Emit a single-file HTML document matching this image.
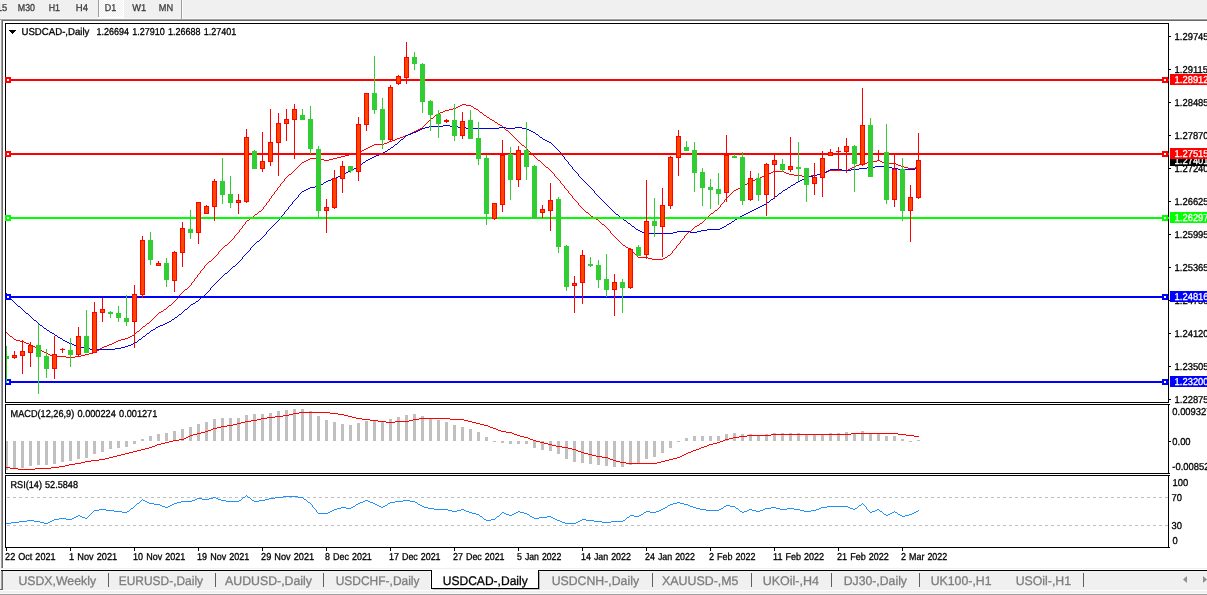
<!DOCTYPE html>
<html><head><meta charset="utf-8"><title>USDCAD-,Daily</title>
<style>
html,body{margin:0;padding:0;background:#fff;overflow:hidden}
body{width:1207px;height:595px;font-family:"Liberation Sans",sans-serif}
svg{display:block}
</style></head><body>
<svg width="1207" height="595" viewBox="0 0 1207 595" shape-rendering="crispEdges" text-rendering="geometricPrecision" font-family="'Liberation Sans', sans-serif">
<rect x="0" y="0" width="1207" height="595" fill="#fff"/>
<rect x="0" y="0" width="1207" height="18" fill="#f0f0f0"/>
<rect x="0" y="18" width="1207" height="1" fill="#f8f8f8"/>
<rect x="0" y="19" width="1207" height="1" fill="#a0a0a0"/>
<rect x="0" y="20" width="1207" height="1" fill="#696969"/>
<rect x="0" y="20" width="1" height="549" fill="#f4f4f4"/>
<rect x="1" y="20" width="1" height="549" fill="#a0a0a0"/>
<rect x="2" y="21" width="1" height="548" fill="#696969"/>
<rect x="98" y="0" width="1" height="17" fill="#a0a0a0"/>
<pattern id="ck" width="2" height="2" patternUnits="userSpaceOnUse"><rect width="2" height="2" fill="#f0f0f0"/><rect width="1" height="1" fill="#fff"/><rect x="1" y="1" width="1" height="1" fill="#fff"/></pattern>
<rect x="99" y="0" width="24" height="17" fill="url(#ck)"/>
<rect x="123" y="0" width="1" height="18" fill="#fff"/>
<rect x="98" y="17" width="26" height="1" fill="#fff"/>
<rect x="181" y="0" width="1" height="19" fill="#a0a0a0"/>
<rect x="182" y="0" width="1" height="19" fill="#fafafa"/>
<text transform="translate(-3.20,11) scale(0.9300,1)" font-size="10" fill="#3c3c3c" stroke="#3c3c3c" stroke-width="0.3">15</text>
<text transform="translate(17.80,11) scale(0.8843,1)" font-size="10" fill="#3c3c3c" stroke="#3c3c3c" stroke-width="0.3">M30</text>
<text transform="translate(48.70,11) scale(0.8828,1)" font-size="10" fill="#3c3c3c" stroke="#3c3c3c" stroke-width="0.3">H1</text>
<text transform="translate(75.80,11) scale(0.9531,1)" font-size="10" fill="#3c3c3c" stroke="#3c3c3c" stroke-width="0.3">H4</text>
<text transform="translate(104.70,11) scale(0.8906,1)" font-size="10" fill="#3c3c3c" stroke="#3c3c3c" stroke-width="0.3">D1</text>
<text transform="translate(132.30,11) scale(0.9267,1)" font-size="10" fill="#3c3c3c" stroke="#3c3c3c" stroke-width="0.3">W1</text>
<text transform="translate(158.80,11) scale(0.9196,1)" font-size="10" fill="#3c3c3c" stroke="#3c3c3c" stroke-width="0.3">MN</text>
<rect x="1" y="568" width="1207" height="1" fill="#f0f0f0"/>
<rect x="1" y="570" width="1207" height="1" fill="#000"/>
<rect x="0" y="571" width="1207" height="19" fill="#f0f0f0"/>
<rect x="0" y="590" width="1207" height="1" fill="#ffffff"/>
<rect x="0" y="591" width="1207" height="2" fill="#f0f0f0"/>
<rect x="0" y="593" width="1207" height="1" fill="#fafafa"/>
<rect x="0" y="594" width="1207" height="1" fill="#a0a0a0"/>
<rect x="1" y="571" width="1" height="18" fill="#a0a0a0"/>
<rect x="2" y="571" width="1" height="18" fill="#696969"/>
<rect x="0" y="589" width="3" height="1" fill="#696969"/>
<rect x="431" y="570" width="108" height="19" fill="#fff"/>
<rect x="431" y="570" width="1" height="19" fill="#000"/>
<rect x="538" y="570" width="1" height="19" fill="#000"/>
<rect x="431" y="588" width="108" height="1" fill="#000"/>
<rect x="539" y="572" width="1" height="17" fill="#b0b0b0"/>
<rect x="433" y="589" width="107" height="1" fill="#c8c8c8"/>
<rect x="430" y="571" width="1" height="18" fill="#ffffff"/>
<text transform="translate(18.40,585) scale(0.9831,1)" font-size="12.5" fill="#7d7d7d" stroke="#7d7d7d" stroke-width="0.3">USDX,Weekly</text>
<text transform="translate(118.70,585) scale(0.9559,1)" font-size="12.5" fill="#7d7d7d" stroke="#7d7d7d" stroke-width="0.3">EURUSD-,Daily</text>
<text transform="translate(225.00,585) scale(0.9865,1)" font-size="12.5" fill="#7d7d7d" stroke="#7d7d7d" stroke-width="0.3">AUDUSD-,Daily</text>
<text transform="translate(335.70,585) scale(0.9577,1)" font-size="12.5" fill="#7d7d7d" stroke="#7d7d7d" stroke-width="0.3">USDCHF-,Daily</text>
<text transform="translate(442.70,585) scale(0.9639,1)" font-size="12.5" fill="#000" stroke="#000" stroke-width="0.3">USDCAD-,Daily</text>
<text transform="translate(551.70,585) scale(0.9823,1)" font-size="12.5" fill="#7d7d7d" stroke="#7d7d7d" stroke-width="0.3">USDCNH-,Daily</text>
<text transform="translate(662.00,585) scale(0.9919,1)" font-size="12.5" fill="#7d7d7d" stroke="#7d7d7d" stroke-width="0.3">XAUUSD-,M5</text>
<text transform="translate(762.70,585) scale(1.0009,1)" font-size="12.5" fill="#7d7d7d" stroke="#7d7d7d" stroke-width="0.3">UKOil-,H4</text>
<text transform="translate(843.70,585) scale(0.9795,1)" font-size="12.5" fill="#7d7d7d" stroke="#7d7d7d" stroke-width="0.3">DJ30-,Daily</text>
<text transform="translate(930.70,585) scale(0.9836,1)" font-size="12.5" fill="#7d7d7d" stroke="#7d7d7d" stroke-width="0.3">UK100-,H1</text>
<text transform="translate(1015.70,585) scale(0.9831,1)" font-size="12.5" fill="#7d7d7d" stroke="#7d7d7d" stroke-width="0.3">USOil-,H1</text>
<rect x="108" y="573" width="1" height="14" fill="#606060"/>
<rect x="215" y="573" width="1" height="14" fill="#606060"/>
<rect x="323" y="573" width="1" height="14" fill="#606060"/>
<rect x="652" y="573" width="1" height="14" fill="#606060"/>
<rect x="751" y="573" width="1" height="14" fill="#606060"/>
<rect x="831" y="573" width="1" height="14" fill="#606060"/>
<rect x="919" y="573" width="1" height="14" fill="#606060"/>
<rect x="1083" y="573" width="1" height="14" fill="#606060"/>
<path d="M1187 576 l0 7 l-4 -3.5z" fill="#909090" shape-rendering="auto"/>
<path d="M1203 576 l0 7 l4 -3.5z" fill="#909090" shape-rendering="auto"/>
<rect x="5" y="23" width="1164" height="1" fill="#000"/>
<rect x="5" y="402" width="1164" height="1" fill="#000"/>
<rect x="5" y="23" width="1" height="380" fill="#000"/>
<rect x="1168" y="23" width="1" height="380" fill="#000"/>
<rect x="5" y="404" width="1164" height="1" fill="#000"/>
<rect x="5" y="473" width="1164" height="1" fill="#000"/>
<rect x="5" y="404" width="1" height="70" fill="#000"/>
<rect x="1168" y="404" width="1" height="70" fill="#000"/>
<rect x="5" y="475" width="1164" height="1" fill="#000"/>
<rect x="5" y="547" width="1164" height="1" fill="#000"/>
<rect x="5" y="475" width="1" height="73" fill="#000"/>
<rect x="1168" y="475" width="1" height="73" fill="#000"/>
<clipPath id="c1"><rect x="6" y="24" width="1162" height="378"/></clipPath>
<clipPath id="c2"><rect x="6" y="405" width="1162" height="68"/></clipPath>
<clipPath id="c3"><rect x="6" y="476" width="1162" height="71"/></clipPath>
<g clip-path="url(#c1)">
<path d="M6 332h1v1h-1zM7 333h1v1h-1zM8 334h1v1h-1zM9 335h1v1h-1zM10 336h2v1h-2zM12 337h1v1h-1zM13 338h1v1h-1zM14 339h2v1h-2zM16 340h4v1h-4zM20 341h4v1h-4zM24 342h2v1h-2zM26 343h3v1h-3zM29 344h2v1h-2zM31 345h2v1h-2zM33 346h2v1h-2zM35 347h2v1h-2zM37 348h2v1h-2zM39 349h2v1h-2zM41 350h1v1h-1zM42 351h2v1h-2zM44 352h2v1h-2zM46 353h2v1h-2zM48 354h2v1h-2zM50 355h3v1h-3zM53 356h13v1h-13zM66 357h9v1h-9zM75 356h6v1h-6zM81 355h4v1h-4zM85 354h4v1h-4zM89 353h4v1h-4zM93 352h2v1h-2zM95 351h2v1h-2zM97 350h2v1h-2zM99 349h1v1h-1zM100 348h2v1h-2zM102 347h2v1h-2zM104 346h3v1h-3zM107 345h2v1h-2zM109 344h3v1h-3zM112 343h2v1h-2zM114 342h2v1h-2zM116 341h2v1h-2zM118 340h3v1h-3zM121 339h4v1h-4zM125 338h3v1h-3zM128 337h2v1h-2zM130 336h2v1h-2zM132 335h2v1h-2zM134 334h1v1h-1zM135 333h1v1h-1zM136 332h1v1h-1zM137 331h2v1h-2zM139 330h1v1h-1zM140 329h1v1h-1zM141 328h1v1h-1zM142 327h1v1h-1zM143 326h2v1h-2zM145 325h1v1h-1zM146 324h1v1h-1zM147 323h2v1h-2zM149 322h1v1h-1zM150 321h1v1h-1zM151 320h1v1h-1zM152 319h1v1h-1zM153 318h1v1h-1zM154 317h1v1h-1zM155 316h1v1h-1zM156 315h1v1h-1zM157 314h1v1h-1zM158 313h1v1h-1zM159 312h2v1h-2zM161 311h2v1h-2zM163 310h1v1h-1zM164 309h2v1h-2zM166 308h1v1h-1zM167 307h1v1h-1zM168 306h1v1h-1zM169 305h2v1h-2zM171 304h1v1h-1zM172 303h1v1h-1zM173 302h1v1h-1zM174 301h1v1h-1zM175 300h1v1h-1zM176 299h1v1h-1zM177 298h1v1h-1zM178 296h1v2h-1zM179 295h1v1h-1zM180 294h1v1h-1zM181 293h1v1h-1zM182 292h1v1h-1zM183 291h1v1h-1zM184 290h1v1h-1zM185 289h2v1h-2zM187 288h1v1h-1zM188 287h1v1h-1zM189 286h1v1h-1zM190 285h1v1h-1zM191 283h1v2h-1zM192 282h1v1h-1zM193 281h1v1h-1zM194 279h1v2h-1zM195 278h1v1h-1zM196 277h1v1h-1zM197 275h1v2h-1zM198 274h1v1h-1zM199 273h1v1h-1zM200 271h1v2h-1zM201 270h1v1h-1zM202 269h1v1h-1zM203 268h1v1h-1zM204 266h1v2h-1zM205 265h1v1h-1zM206 264h1v1h-1zM207 263h1v1h-1zM208 262h1v1h-1zM209 261h2v1h-2zM211 260h1v1h-1zM212 259h1v1h-1zM213 258h1v1h-1zM214 257h1v1h-1zM215 256h1v1h-1zM216 255h1v1h-1zM217 254h1v1h-1zM218 252h1v2h-1zM219 251h1v1h-1zM220 250h1v1h-1zM221 249h1v1h-1zM222 248h1v1h-1zM223 247h1v1h-1zM224 246h1v1h-1zM225 245h2v1h-2zM227 244h1v1h-1zM228 243h1v1h-1zM229 242h1v1h-1zM230 241h1v1h-1zM231 240h1v1h-1zM232 239h1v1h-1zM233 238h1v1h-1zM234 236h1v2h-1zM235 235h1v1h-1zM236 234h1v1h-1zM237 233h1v1h-1zM238 232h1v1h-1zM239 230h1v2h-1zM240 229h1v1h-1zM241 228h1v1h-1zM242 226h1v2h-1zM243 225h1v1h-1zM244 224h1v1h-1zM245 222h1v2h-1zM246 221h1v1h-1zM247 220h2v1h-2zM249 219h1v1h-1zM250 218h1v1h-1zM251 217h2v1h-2zM253 216h1v1h-1zM254 215h1v1h-1zM255 214h2v1h-2zM257 213h1v1h-1zM258 212h1v1h-1zM259 211h2v1h-2zM261 210h1v1h-1zM262 209h1v1h-1zM263 207h1v2h-1zM264 206h1v1h-1zM265 205h1v1h-1zM266 203h1v2h-1zM267 202h1v1h-1zM268 201h1v1h-1zM269 199h1v2h-1zM270 198h1v1h-1zM271 196h1v2h-1zM272 195h1v1h-1zM273 194h1v1h-1zM274 192h1v2h-1zM275 191h1v1h-1zM276 190h1v1h-1zM277 188h1v2h-1zM278 187h1v1h-1zM279 186h1v1h-1zM280 184h1v2h-1zM281 183h1v1h-1zM282 182h1v1h-1zM283 181h1v1h-1zM284 179h1v2h-1zM285 178h1v1h-1zM286 177h1v1h-1zM287 176h1v1h-1zM288 175h1v1h-1zM289 174h2v1h-2zM291 173h1v1h-1zM292 172h1v1h-1zM293 171h1v1h-1zM294 170h1v1h-1zM295 169h1v1h-1zM296 168h1v1h-1zM297 167h1v1h-1zM298 166h1v1h-1zM299 165h1v1h-1zM300 164h1v1h-1zM301 163h1v1h-1zM302 162h2v1h-2zM304 161h2v1h-2zM306 160h2v1h-2zM308 159h2v1h-2zM310 158h10v1h-10zM320 159h4v1h-4zM324 160h5v1h-5zM329 159h4v1h-4zM333 158h4v1h-4zM337 157h4v1h-4zM341 156h4v1h-4zM345 155h4v1h-4zM349 154h4v1h-4zM353 153h4v1h-4zM357 152h3v1h-3zM360 151h2v1h-2zM362 150h2v1h-2zM364 149h2v1h-2zM366 148h2v1h-2zM368 147h2v1h-2zM370 146h2v1h-2zM372 145h2v1h-2zM374 144h10v1h-10zM384 143h3v1h-3zM387 142h2v1h-2zM389 141h3v1h-3zM392 140h3v1h-3zM395 139h2v1h-2zM397 138h3v1h-3zM400 137h3v1h-3zM403 136h2v1h-2zM405 135h3v1h-3zM408 134h2v1h-2zM410 133h2v1h-2zM412 132h2v1h-2zM414 131h2v1h-2zM416 130h2v1h-2zM418 129h2v1h-2zM420 128h2v1h-2zM422 127h1v1h-1zM423 126h1v1h-1zM424 125h1v1h-1zM425 124h1v1h-1zM426 123h1v1h-1zM427 122h1v1h-1zM428 121h1v1h-1zM429 120h1v1h-1zM430 119h1v1h-1zM431 118h2v1h-2zM433 117h1v1h-1zM434 116h1v1h-1zM435 115h2v1h-2zM437 114h1v1h-1zM438 113h2v1h-2zM440 112h3v1h-3zM443 111h2v1h-2zM445 110h4v1h-4zM449 109h4v1h-4zM453 108h3v1h-3zM456 107h2v1h-2zM458 106h2v1h-2zM460 105h2v1h-2zM462 104h4v1h-4zM466 105h5v1h-5zM471 106h2v1h-2zM473 107h1v1h-1zM474 108h2v1h-2zM476 109h2v1h-2zM478 110h1v1h-1zM479 111h1v1h-1zM480 112h2v1h-2zM482 113h1v1h-1zM483 114h1v1h-1zM484 115h2v1h-2zM486 116h1v1h-1zM487 117h2v1h-2zM489 118h1v1h-1zM490 119h2v1h-2zM492 120h2v1h-2zM494 121h1v1h-1zM495 122h2v1h-2zM497 123h1v1h-1zM498 124h2v1h-2zM500 125h2v1h-2zM502 126h1v1h-1zM503 127h1v1h-1zM504 128h1v1h-1zM505 129h1v1h-1zM506 130h2v1h-2zM508 131h1v1h-1zM509 132h1v1h-1zM510 133h1v1h-1zM511 134h1v1h-1zM512 135h1v1h-1zM513 136h1v1h-1zM514 137h1v1h-1zM515 138h1v1h-1zM516 139h1v1h-1zM517 140h1v1h-1zM518 141h1v1h-1zM519 142h1v1h-1zM520 143h1v1h-1zM521 144h1v1h-1zM522 145h2v1h-2zM524 146h1v1h-1zM525 147h1v1h-1zM526 148h1v1h-1zM527 149h1v1h-1zM528 150h1v1h-1zM529 151h1v1h-1zM530 152h1v1h-1zM531 153h1v1h-1zM532 154h1v1h-1zM533 155h1v1h-1zM534 156h1v1h-1zM535 157h1v1h-1zM536 158h1v1h-1zM537 159h1v1h-1zM538 160h2v1h-2zM540 161h1v1h-1zM541 162h1v1h-1zM542 163h1v1h-1zM543 164h1v1h-1zM544 165h1v1h-1zM545 166h1v1h-1zM546 167h2v1h-2zM548 168h1v1h-1zM549 169h1v1h-1zM550 170h1v1h-1zM551 171h1v1h-1zM552 172h1v1h-1zM553 173h1v1h-1zM554 174h1v2h-1zM555 176h1v1h-1zM556 177h1v1h-1zM557 178h1v1h-1zM558 179h1v1h-1zM559 180h1v1h-1zM560 181h1v2h-1zM561 183h1v1h-1zM562 184h1v1h-1zM563 185h1v1h-1zM564 186h1v2h-1zM565 188h1v1h-1zM566 189h1v1h-1zM567 190h1v1h-1zM568 191h1v2h-1zM569 193h1v1h-1zM570 194h1v1h-1zM571 195h1v1h-1zM572 196h1v2h-1zM573 198h1v1h-1zM574 199h1v1h-1zM575 200h1v1h-1zM576 201h1v1h-1zM577 202h1v1h-1zM578 203h1v2h-1zM579 205h1v1h-1zM580 206h1v1h-1zM581 207h1v1h-1zM582 208h1v1h-1zM583 209h1v1h-1zM584 210h1v1h-1zM585 211h1v1h-1zM586 212h2v1h-2zM588 213h1v1h-1zM589 214h1v1h-1zM590 215h1v1h-1zM591 216h2v1h-2zM593 217h1v1h-1zM594 218h2v1h-2zM596 219h2v1h-2zM598 220h1v1h-1zM599 221h1v1h-1zM600 222h1v1h-1zM601 223h1v1h-1zM602 224h2v1h-2zM604 225h1v1h-1zM605 226h1v1h-1zM606 227h1v1h-1zM607 228h1v1h-1zM608 229h1v1h-1zM609 230h1v1h-1zM610 231h1v2h-1zM611 233h1v1h-1zM612 234h1v1h-1zM613 235h1v1h-1zM614 236h1v1h-1zM615 237h1v1h-1zM616 238h1v1h-1zM617 239h1v1h-1zM618 240h1v1h-1zM619 241h1v1h-1zM620 242h1v1h-1zM621 243h1v1h-1zM622 244h1v1h-1zM623 245h2v1h-2zM625 246h1v1h-1zM626 247h2v1h-2zM628 248h2v1h-2zM630 249h1v1h-1zM631 250h1v1h-1zM632 251h1v1h-1zM633 252h1v1h-1zM634 253h1v1h-1zM635 254h1v1h-1zM636 255h1v1h-1zM637 256h1v1h-1zM638 257h10v1h-10zM648 258h4v1h-4zM652 259h11v1h-11zM663 258h2v1h-2zM665 257h2v1h-2zM667 256h1v1h-1zM668 255h2v1h-2zM670 254h1v1h-1zM671 253h1v1h-1zM672 251h1v2h-1zM673 250h1v1h-1zM674 249h1v1h-1zM675 248h1v1h-1zM676 246h1v2h-1zM677 245h1v1h-1zM678 244h1v1h-1zM679 243h1v1h-1zM680 241h1v2h-1zM681 240h1v1h-1zM682 239h1v1h-1zM683 238h1v1h-1zM684 236h1v2h-1zM685 235h1v1h-1zM686 234h1v1h-1zM687 233h1v1h-1zM688 232h1v1h-1zM689 231h2v1h-2zM691 230h1v1h-1zM692 229h1v1h-1zM693 228h1v1h-1zM694 227h1v1h-1zM695 226h2v1h-2zM697 225h2v1h-2zM699 224h1v1h-1zM700 223h2v1h-2zM702 222h1v1h-1zM703 221h1v1h-1zM704 220h1v1h-1zM705 219h1v1h-1zM706 218h1v1h-1zM707 217h1v1h-1zM708 216h1v1h-1zM709 215h1v1h-1zM710 214h1v1h-1zM711 213h2v1h-2zM713 212h1v1h-1zM714 211h1v1h-1zM715 210h2v1h-2zM717 209h1v1h-1zM718 208h1v1h-1zM719 207h1v1h-1zM720 205h1v2h-1zM721 204h1v1h-1zM722 203h1v1h-1zM723 202h1v1h-1zM724 200h1v2h-1zM725 199h1v1h-1zM726 198h1v1h-1zM727 197h1v1h-1zM728 196h1v1h-1zM729 195h1v1h-1zM730 194h1v1h-1zM731 193h1v1h-1zM732 192h1v1h-1zM733 191h1v1h-1zM734 190h2v1h-2zM736 189h2v1h-2zM738 188h2v1h-2zM740 187h2v1h-2zM742 186h1v1h-1zM743 185h2v1h-2zM745 184h2v1h-2zM747 183h1v1h-1zM748 182h2v1h-2zM750 181h2v1h-2zM752 180h3v1h-3zM755 179h2v1h-2zM757 178h3v1h-3zM760 177h2v1h-2zM762 176h2v1h-2zM764 175h2v1h-2zM766 174h2v1h-2zM768 173h3v1h-3zM771 172h2v1h-2zM773 171h11v1h-11zM784 172h2v1h-2zM786 173h3v1h-3zM789 174h5v1h-5zM794 175h8v1h-8zM802 176h9v1h-9zM811 175h6v1h-6zM817 174h4v1h-4zM821 173h3v1h-3zM824 172h3v1h-3zM827 171h2v1h-2zM829 170h19v1h-19zM848 169h2v1h-2zM850 168h2v1h-2zM852 167h2v1h-2zM854 166h2v1h-2zM856 165h3v1h-3zM859 164h2v1h-2zM861 163h6v1h-6zM867 162h6v1h-6zM873 161h4v1h-4zM877 160h3v1h-3zM880 161h2v1h-2zM882 162h3v1h-3zM885 163h11v1h-11zM896 164h2v1h-2zM898 165h3v1h-3zM901 166h3v1h-3zM904 167h4v1h-4zM908 168h7v1h-7zM915 167h4v1h-4z" fill="#ff0000"/>
<path d="M6 293h1v1h-1zM7 294h1v1h-1zM8 295h1v1h-1zM9 296h1v1h-1zM10 297h1v2h-1zM11 299h1v1h-1zM12 300h1v1h-1zM13 301h1v1h-1zM14 302h1v1h-1zM15 303h1v1h-1zM16 304h1v1h-1zM17 305h1v1h-1zM18 306h2v1h-2zM20 307h1v1h-1zM21 308h1v1h-1zM22 309h1v1h-1zM23 310h1v1h-1zM24 311h1v1h-1zM25 312h1v1h-1zM26 313h2v1h-2zM28 314h1v1h-1zM29 315h1v1h-1zM30 316h1v1h-1zM31 317h1v1h-1zM32 318h1v1h-1zM33 319h1v1h-1zM34 320h2v1h-2zM36 321h1v1h-1zM37 322h1v1h-1zM38 323h1v1h-1zM39 324h1v1h-1zM40 325h2v1h-2zM42 326h1v1h-1zM43 327h1v1h-1zM44 328h2v1h-2zM46 329h1v1h-1zM47 330h2v1h-2zM49 331h1v1h-1zM50 332h2v1h-2zM52 333h2v1h-2zM54 334h1v1h-1zM55 335h2v1h-2zM57 336h1v1h-1zM58 337h2v1h-2zM60 338h2v1h-2zM62 339h1v1h-1zM63 340h2v1h-2zM65 341h2v1h-2zM67 342h2v1h-2zM69 343h3v1h-3zM72 344h2v1h-2zM74 345h3v1h-3zM77 346h3v1h-3zM80 347h4v1h-4zM84 348h6v1h-6zM90 349h25v1h-25zM115 348h6v1h-6zM121 347h4v1h-4zM125 346h3v1h-3zM128 345h3v1h-3zM131 344h2v1h-2zM133 343h2v1h-2zM135 342h2v1h-2zM137 341h1v1h-1zM138 340h1v1h-1zM139 339h2v1h-2zM141 338h1v1h-1zM142 337h1v1h-1zM143 336h2v1h-2zM145 335h1v1h-1zM146 334h1v1h-1zM147 333h2v1h-2zM149 332h1v1h-1zM150 331h1v1h-1zM151 330h2v1h-2zM153 329h2v1h-2zM155 328h1v1h-1zM156 327h2v1h-2zM158 326h2v1h-2zM160 325h3v1h-3zM163 324h2v1h-2zM165 323h2v1h-2zM167 322h2v1h-2zM169 321h2v1h-2zM171 320h1v1h-1zM172 319h2v1h-2zM174 318h1v1h-1zM175 317h2v1h-2zM177 316h1v1h-1zM178 315h1v1h-1zM179 314h2v1h-2zM181 313h1v1h-1zM182 312h1v1h-1zM183 311h1v1h-1zM184 310h1v1h-1zM185 309h2v1h-2zM187 308h1v1h-1zM188 307h1v1h-1zM189 306h1v1h-1zM190 305h1v1h-1zM191 304h2v1h-2zM193 303h2v1h-2zM195 302h1v1h-1zM196 301h2v1h-2zM198 300h1v1h-1zM199 299h1v1h-1zM200 298h1v1h-1zM201 297h2v1h-2zM203 296h1v1h-1zM204 295h1v1h-1zM205 294h1v1h-1zM206 293h1v1h-1zM207 292h1v1h-1zM208 291h1v1h-1zM209 290h1v1h-1zM210 288h1v2h-1zM211 287h1v1h-1zM212 286h1v1h-1zM213 285h1v1h-1zM214 284h1v1h-1zM215 283h1v1h-1zM216 282h1v1h-1zM217 281h1v1h-1zM218 280h1v1h-1zM219 279h1v1h-1zM220 278h1v1h-1zM221 277h1v1h-1zM222 276h1v1h-1zM223 275h1v1h-1zM224 274h1v1h-1zM225 273h2v1h-2zM227 272h1v1h-1zM228 271h1v1h-1zM229 270h1v1h-1zM230 269h1v1h-1zM231 268h1v1h-1zM232 267h1v1h-1zM233 266h2v1h-2zM235 265h1v1h-1zM236 264h1v1h-1zM237 263h1v1h-1zM238 262h1v1h-1zM239 261h1v1h-1zM240 260h1v1h-1zM241 259h1v1h-1zM242 257h1v2h-1zM243 256h1v1h-1zM244 255h1v1h-1zM245 254h1v1h-1zM246 253h1v1h-1zM247 252h1v1h-1zM248 251h1v1h-1zM249 250h1v1h-1zM250 248h1v2h-1zM251 247h1v1h-1zM252 246h1v1h-1zM253 245h1v1h-1zM254 244h1v1h-1zM255 243h1v1h-1zM256 242h1v1h-1zM257 241h2v1h-2zM259 240h1v1h-1zM260 239h1v1h-1zM261 238h1v1h-1zM262 237h1v1h-1zM263 236h1v1h-1zM264 235h1v1h-1zM265 234h1v1h-1zM266 232h1v2h-1zM267 231h1v1h-1zM268 230h1v1h-1zM269 229h1v1h-1zM270 228h1v1h-1zM271 227h1v1h-1zM272 226h1v1h-1zM273 225h1v1h-1zM274 224h1v1h-1zM275 223h1v1h-1zM276 222h1v1h-1zM277 221h1v1h-1zM278 220h1v1h-1zM279 219h1v1h-1zM280 217h1v2h-1zM281 216h1v1h-1zM282 215h1v1h-1zM283 214h1v1h-1zM284 212h1v2h-1zM285 211h1v1h-1zM286 210h1v1h-1zM287 209h1v1h-1zM288 207h1v2h-1zM289 206h1v1h-1zM290 205h1v1h-1zM291 204h1v1h-1zM292 202h1v2h-1zM293 201h1v1h-1zM294 200h1v1h-1zM295 199h1v1h-1zM296 198h1v1h-1zM297 197h1v1h-1zM298 195h1v2h-1zM299 194h1v1h-1zM300 193h1v1h-1zM301 192h1v1h-1zM302 191h2v1h-2zM304 190h2v1h-2zM306 189h2v1h-2zM308 188h2v1h-2zM310 187h5v1h-5zM315 186h4v1h-4zM319 185h2v1h-2zM321 184h2v1h-2zM323 183h1v1h-1zM324 182h2v1h-2zM326 181h2v1h-2zM328 180h3v1h-3zM331 179h2v1h-2zM333 178h3v1h-3zM336 177h2v1h-2zM338 176h2v1h-2zM340 175h2v1h-2zM342 174h2v1h-2zM344 173h2v1h-2zM346 172h2v1h-2zM348 171h2v1h-2zM350 170h2v1h-2zM352 169h2v1h-2zM354 168h2v1h-2zM356 167h2v1h-2zM358 166h1v1h-1zM359 165h2v1h-2zM361 164h1v1h-1zM362 163h1v1h-1zM363 162h2v1h-2zM365 161h1v1h-1zM366 160h2v1h-2zM368 159h2v1h-2zM370 158h2v1h-2zM372 157h2v1h-2zM374 156h2v1h-2zM376 155h3v1h-3zM379 154h2v1h-2zM381 153h2v1h-2zM383 152h2v1h-2zM385 151h2v1h-2zM387 150h1v1h-1zM388 149h2v1h-2zM390 148h1v1h-1zM391 147h2v1h-2zM393 146h1v1h-1zM394 145h1v1h-1zM395 144h2v1h-2zM397 143h1v1h-1zM398 142h1v1h-1zM399 141h1v1h-1zM400 140h1v1h-1zM401 139h2v1h-2zM403 138h1v1h-1zM404 137h1v1h-1zM405 136h1v1h-1zM406 135h2v1h-2zM408 134h3v1h-3zM411 133h2v1h-2zM413 132h3v1h-3zM416 131h2v1h-2zM418 130h2v1h-2zM420 129h2v1h-2zM422 128h3v1h-3zM425 127h4v1h-4zM429 126h14v1h-14zM443 125h7v1h-7zM450 126h8v1h-8zM458 127h8v1h-8zM466 128h33v1h-33zM499 127h7v1h-7zM506 128h9v1h-9zM515 127h7v1h-7zM522 128h5v1h-5zM527 129h2v1h-2zM529 130h2v1h-2zM531 131h2v1h-2zM533 132h2v1h-2zM535 133h1v1h-1zM536 134h2v1h-2zM538 135h1v1h-1zM539 136h1v1h-1zM540 137h2v1h-2zM542 138h1v1h-1zM543 139h2v1h-2zM545 140h2v1h-2zM547 141h2v1h-2zM549 142h2v1h-2zM551 143h1v1h-1zM552 144h1v1h-1zM553 145h1v1h-1zM554 146h1v1h-1zM555 147h1v1h-1zM556 148h1v1h-1zM557 149h1v1h-1zM558 150h1v1h-1zM559 151h1v1h-1zM560 152h1v2h-1zM561 154h1v1h-1zM562 155h1v1h-1zM563 156h1v1h-1zM564 157h1v2h-1zM565 159h1v1h-1zM566 160h1v1h-1zM567 161h1v1h-1zM568 162h1v2h-1zM569 164h1v1h-1zM570 165h1v1h-1zM571 166h1v1h-1zM572 167h1v2h-1zM573 169h1v1h-1zM574 170h1v1h-1zM575 171h1v1h-1zM576 172h1v1h-1zM577 173h1v1h-1zM578 174h1v2h-1zM579 176h1v1h-1zM580 177h1v1h-1zM581 178h1v1h-1zM582 179h1v1h-1zM583 180h1v1h-1zM584 181h1v1h-1zM585 182h1v1h-1zM586 183h1v1h-1zM587 184h1v1h-1zM588 185h1v1h-1zM589 186h1v1h-1zM590 187h1v1h-1zM591 188h1v1h-1zM592 189h1v1h-1zM593 190h1v1h-1zM594 191h1v2h-1zM595 193h1v1h-1zM596 194h1v1h-1zM597 195h1v1h-1zM598 196h1v1h-1zM599 197h1v1h-1zM600 198h1v1h-1zM601 199h1v1h-1zM602 200h1v1h-1zM603 201h1v1h-1zM604 202h1v1h-1zM605 203h1v1h-1zM606 204h1v1h-1zM607 205h1v1h-1zM608 206h1v1h-1zM609 207h1v1h-1zM610 208h1v1h-1zM611 209h1v1h-1zM612 210h1v1h-1zM613 211h1v1h-1zM614 212h1v1h-1zM615 213h1v1h-1zM616 214h2v1h-2zM618 215h1v1h-1zM619 216h1v1h-1zM620 217h2v1h-2zM622 218h1v1h-1zM623 219h1v1h-1zM624 220h2v1h-2zM626 221h1v1h-1zM627 222h1v1h-1zM628 223h2v1h-2zM630 224h1v1h-1zM631 225h1v1h-1zM632 226h2v1h-2zM634 227h1v1h-1zM635 228h1v1h-1zM636 229h2v1h-2zM638 230h2v1h-2zM640 231h2v1h-2zM642 232h3v1h-3zM645 233h28v1h-28zM673 232h4v1h-4zM677 231h13v1h-13zM690 232h7v1h-7zM697 231h4v1h-4zM701 230h6v1h-6zM707 229h13v1h-13zM720 228h2v1h-2zM722 227h2v1h-2zM724 226h2v1h-2zM726 225h1v1h-1zM727 224h2v1h-2zM729 223h2v1h-2zM731 222h1v1h-1zM732 221h2v1h-2zM734 220h1v1h-1zM735 219h2v1h-2zM737 218h2v1h-2zM739 217h1v1h-1zM740 216h2v1h-2zM742 215h2v1h-2zM744 214h2v1h-2zM746 213h2v1h-2zM748 212h2v1h-2zM750 211h2v1h-2zM752 210h2v1h-2zM754 209h2v1h-2zM756 208h2v1h-2zM758 207h2v1h-2zM760 206h2v1h-2zM762 205h2v1h-2zM764 204h2v1h-2zM766 203h1v1h-1zM767 202h2v1h-2zM769 201h1v1h-1zM770 200h1v1h-1zM771 199h2v1h-2zM773 198h1v1h-1zM774 197h1v1h-1zM775 196h2v1h-2zM777 195h1v1h-1zM778 194h1v1h-1zM779 193h2v1h-2zM781 192h1v1h-1zM782 191h1v1h-1zM783 190h2v1h-2zM785 189h2v1h-2zM787 188h1v1h-1zM788 187h2v1h-2zM790 186h1v1h-1zM791 185h2v1h-2zM793 184h2v1h-2zM795 183h1v1h-1zM796 182h2v1h-2zM798 181h2v1h-2zM800 180h2v1h-2zM802 179h2v1h-2zM804 178h2v1h-2zM806 177h3v1h-3zM809 176h4v1h-4zM813 175h4v1h-4zM817 174h4v1h-4zM821 173h3v1h-3zM824 172h2v1h-2zM826 171h2v1h-2zM828 170h2v1h-2zM830 169h12v1h-12zM842 170h9v1h-9zM851 169h8v1h-8zM859 168h8v1h-8zM867 167h8v1h-8zM875 166h13v1h-13zM888 167h4v1h-4zM892 168h6v1h-6zM898 169h17v1h-17zM915 168h4v1h-4z" fill="#0000e0"/>
</g>
<rect x="6" y="79" width="1163" height="2" fill="#ff0000"/>
<rect x="5" y="77" width="6" height="6" fill="#ff0000"/>
<rect x="7" y="79" width="2" height="2" fill="#fff"/>
<rect x="1162" y="77" width="6" height="6" fill="#ff0000"/>
<rect x="1164" y="79" width="2" height="2" fill="#fff"/>
<rect x="6" y="153" width="1163" height="2" fill="#ff0000"/>
<rect x="5" y="151" width="6" height="6" fill="#ff0000"/>
<rect x="7" y="153" width="2" height="2" fill="#fff"/>
<rect x="1162" y="151" width="6" height="6" fill="#ff0000"/>
<rect x="1164" y="153" width="2" height="2" fill="#fff"/>
<rect x="6" y="217" width="1163" height="2" fill="#00ff00"/>
<rect x="5" y="215" width="6" height="6" fill="#00ff00"/>
<rect x="7" y="217" width="2" height="2" fill="#fff"/>
<rect x="1162" y="215" width="6" height="6" fill="#00ff00"/>
<rect x="1164" y="217" width="2" height="2" fill="#fff"/>
<rect x="6" y="296" width="1163" height="2" fill="#0000ff"/>
<rect x="5" y="294" width="6" height="6" fill="#0000ff"/>
<rect x="7" y="296" width="2" height="2" fill="#fff"/>
<rect x="1162" y="294" width="6" height="6" fill="#0000ff"/>
<rect x="1164" y="296" width="2" height="2" fill="#fff"/>
<rect x="6" y="381" width="1163" height="2" fill="#0000ff"/>
<rect x="5" y="379" width="6" height="6" fill="#0000ff"/>
<rect x="7" y="381" width="2" height="2" fill="#fff"/>
<rect x="1162" y="379" width="6" height="6" fill="#0000ff"/>
<rect x="1164" y="381" width="2" height="2" fill="#fff"/>
<g clip-path="url(#c1)">
<rect x="6" y="346" width="1" height="37" fill="#32cd32"/>
<rect x="4" y="356" width="5" height="3" fill="#32cd32"/>
<rect x="14" y="351" width="1" height="8" fill="#ff0000"/>
<rect x="12" y="355" width="5" height="3" fill="#ff0000"/>
<rect x="13" y="356" width="3" height="1" fill="#ff4500"/>
<rect x="22" y="340" width="1" height="34" fill="#ff0000"/>
<rect x="20" y="351" width="5" height="5" fill="#ff0000"/>
<rect x="21" y="352" width="3" height="3" fill="#ff4500"/>
<rect x="30" y="342" width="1" height="25" fill="#ff0000"/>
<rect x="28" y="345" width="5" height="8" fill="#ff0000"/>
<rect x="29" y="346" width="3" height="6" fill="#ff4500"/>
<rect x="38" y="324" width="1" height="70" fill="#32cd32"/>
<rect x="36" y="345" width="5" height="12" fill="#32cd32"/>
<rect x="46" y="349" width="1" height="29" fill="#32cd32"/>
<rect x="44" y="356" width="5" height="13" fill="#32cd32"/>
<rect x="54" y="336" width="1" height="43" fill="#ff0000"/>
<rect x="52" y="354" width="5" height="15" fill="#ff0000"/>
<rect x="53" y="355" width="3" height="13" fill="#ff4500"/>
<rect x="62" y="348" width="1" height="5" fill="#ff0000"/>
<rect x="60" y="349" width="5" height="1" fill="#ff0000"/>
<rect x="70" y="338" width="1" height="29" fill="#32cd32"/>
<rect x="68" y="350" width="5" height="5" fill="#32cd32"/>
<rect x="78" y="327" width="1" height="29" fill="#ff0000"/>
<rect x="76" y="336" width="5" height="19" fill="#ff0000"/>
<rect x="77" y="337" width="3" height="17" fill="#ff4500"/>
<rect x="86" y="310" width="1" height="43" fill="#32cd32"/>
<rect x="84" y="336" width="5" height="17" fill="#32cd32"/>
<rect x="94" y="302" width="1" height="51" fill="#ff0000"/>
<rect x="92" y="312" width="5" height="41" fill="#ff0000"/>
<rect x="93" y="313" width="3" height="39" fill="#ff4500"/>
<rect x="102" y="298" width="1" height="24" fill="#ff0000"/>
<rect x="100" y="309" width="5" height="4" fill="#ff0000"/>
<rect x="101" y="310" width="3" height="2" fill="#ff4500"/>
<rect x="110" y="311" width="1" height="7" fill="#32cd32"/>
<rect x="108" y="312" width="5" height="2" fill="#32cd32"/>
<rect x="118" y="306" width="1" height="16" fill="#32cd32"/>
<rect x="116" y="313" width="5" height="5" fill="#32cd32"/>
<rect x="126" y="295" width="1" height="31" fill="#32cd32"/>
<rect x="124" y="318" width="5" height="4" fill="#32cd32"/>
<rect x="134" y="285" width="1" height="63" fill="#ff0000"/>
<rect x="132" y="294" width="5" height="28" fill="#ff0000"/>
<rect x="133" y="295" width="3" height="26" fill="#ff4500"/>
<rect x="142" y="236" width="1" height="62" fill="#ff0000"/>
<rect x="140" y="240" width="5" height="55" fill="#ff0000"/>
<rect x="141" y="241" width="3" height="53" fill="#ff4500"/>
<rect x="150" y="232" width="1" height="33" fill="#32cd32"/>
<rect x="148" y="240" width="5" height="20" fill="#32cd32"/>
<rect x="158" y="261" width="1" height="5" fill="#ff0000"/>
<rect x="156" y="263" width="5" height="3" fill="#ff0000"/>
<rect x="157" y="264" width="3" height="1" fill="#ff4500"/>
<rect x="166" y="258" width="1" height="29" fill="#32cd32"/>
<rect x="164" y="263" width="5" height="17" fill="#32cd32"/>
<rect x="174" y="251" width="1" height="41" fill="#ff0000"/>
<rect x="172" y="252" width="5" height="29" fill="#ff0000"/>
<rect x="173" y="253" width="3" height="27" fill="#ff4500"/>
<rect x="182" y="222" width="1" height="45" fill="#ff0000"/>
<rect x="180" y="228" width="5" height="25" fill="#ff0000"/>
<rect x="181" y="229" width="3" height="23" fill="#ff4500"/>
<rect x="190" y="210" width="1" height="29" fill="#32cd32"/>
<rect x="188" y="229" width="5" height="4" fill="#32cd32"/>
<rect x="198" y="202" width="1" height="42" fill="#ff0000"/>
<rect x="196" y="202" width="5" height="31" fill="#ff0000"/>
<rect x="197" y="203" width="3" height="29" fill="#ff4500"/>
<rect x="206" y="205" width="1" height="9" fill="#ff0000"/>
<rect x="204" y="206" width="5" height="8" fill="#ff0000"/>
<rect x="205" y="207" width="3" height="6" fill="#ff4500"/>
<rect x="214" y="179" width="1" height="42" fill="#ff0000"/>
<rect x="212" y="181" width="5" height="26" fill="#ff0000"/>
<rect x="213" y="182" width="3" height="24" fill="#ff4500"/>
<rect x="222" y="158" width="1" height="46" fill="#32cd32"/>
<rect x="220" y="181" width="5" height="14" fill="#32cd32"/>
<rect x="230" y="176" width="1" height="32" fill="#32cd32"/>
<rect x="228" y="194" width="5" height="9" fill="#32cd32"/>
<rect x="238" y="194" width="1" height="20" fill="#ff0000"/>
<rect x="236" y="200" width="5" height="3" fill="#ff0000"/>
<rect x="237" y="201" width="3" height="1" fill="#ff4500"/>
<rect x="246" y="129" width="1" height="74" fill="#ff0000"/>
<rect x="244" y="137" width="5" height="65" fill="#ff0000"/>
<rect x="245" y="138" width="3" height="63" fill="#ff4500"/>
<rect x="254" y="150" width="1" height="19" fill="#32cd32"/>
<rect x="252" y="151" width="5" height="18" fill="#32cd32"/>
<rect x="262" y="132" width="1" height="40" fill="#ff0000"/>
<rect x="260" y="161" width="5" height="8" fill="#ff0000"/>
<rect x="261" y="162" width="3" height="6" fill="#ff4500"/>
<rect x="270" y="109" width="1" height="57" fill="#ff0000"/>
<rect x="268" y="142" width="5" height="20" fill="#ff0000"/>
<rect x="269" y="143" width="3" height="18" fill="#ff4500"/>
<rect x="278" y="113" width="1" height="63" fill="#ff0000"/>
<rect x="276" y="123" width="5" height="20" fill="#ff0000"/>
<rect x="277" y="124" width="3" height="18" fill="#ff4500"/>
<rect x="286" y="109" width="1" height="32" fill="#ff0000"/>
<rect x="284" y="119" width="5" height="5" fill="#ff0000"/>
<rect x="285" y="120" width="3" height="3" fill="#ff4500"/>
<rect x="294" y="104" width="1" height="55" fill="#ff0000"/>
<rect x="292" y="109" width="5" height="11" fill="#ff0000"/>
<rect x="293" y="110" width="3" height="9" fill="#ff4500"/>
<rect x="302" y="109" width="1" height="11" fill="#32cd32"/>
<rect x="300" y="115" width="5" height="5" fill="#32cd32"/>
<rect x="310" y="106" width="1" height="48" fill="#32cd32"/>
<rect x="308" y="119" width="5" height="30" fill="#32cd32"/>
<rect x="318" y="146" width="1" height="72" fill="#32cd32"/>
<rect x="316" y="149" width="5" height="62" fill="#32cd32"/>
<rect x="326" y="199" width="1" height="34" fill="#ff0000"/>
<rect x="324" y="207" width="5" height="4" fill="#ff0000"/>
<rect x="325" y="208" width="3" height="2" fill="#ff4500"/>
<rect x="334" y="170" width="1" height="39" fill="#ff0000"/>
<rect x="332" y="178" width="5" height="30" fill="#ff0000"/>
<rect x="333" y="179" width="3" height="28" fill="#ff4500"/>
<rect x="342" y="161" width="1" height="32" fill="#ff0000"/>
<rect x="340" y="166" width="5" height="13" fill="#ff0000"/>
<rect x="341" y="167" width="3" height="11" fill="#ff4500"/>
<rect x="350" y="166" width="1" height="7" fill="#32cd32"/>
<rect x="348" y="166" width="5" height="5" fill="#32cd32"/>
<rect x="358" y="117" width="1" height="64" fill="#ff0000"/>
<rect x="356" y="124" width="5" height="48" fill="#ff0000"/>
<rect x="357" y="125" width="3" height="46" fill="#ff4500"/>
<rect x="366" y="93" width="1" height="38" fill="#ff0000"/>
<rect x="364" y="93" width="5" height="32" fill="#ff0000"/>
<rect x="365" y="94" width="3" height="30" fill="#ff4500"/>
<rect x="374" y="56" width="1" height="58" fill="#32cd32"/>
<rect x="372" y="93" width="5" height="17" fill="#32cd32"/>
<rect x="382" y="98" width="1" height="51" fill="#32cd32"/>
<rect x="380" y="109" width="5" height="31" fill="#32cd32"/>
<rect x="390" y="85" width="1" height="57" fill="#ff0000"/>
<rect x="388" y="87" width="5" height="53" fill="#ff0000"/>
<rect x="389" y="88" width="3" height="51" fill="#ff4500"/>
<rect x="398" y="75" width="1" height="10" fill="#ff0000"/>
<rect x="396" y="76" width="5" height="8" fill="#ff0000"/>
<rect x="397" y="77" width="3" height="6" fill="#ff4500"/>
<rect x="406" y="42" width="1" height="42" fill="#ff0000"/>
<rect x="404" y="57" width="5" height="21" fill="#ff0000"/>
<rect x="405" y="58" width="3" height="19" fill="#ff4500"/>
<rect x="414" y="52" width="1" height="18" fill="#32cd32"/>
<rect x="412" y="57" width="5" height="7" fill="#32cd32"/>
<rect x="422" y="63" width="1" height="50" fill="#32cd32"/>
<rect x="420" y="64" width="5" height="38" fill="#32cd32"/>
<rect x="430" y="100" width="1" height="31" fill="#32cd32"/>
<rect x="428" y="101" width="5" height="14" fill="#32cd32"/>
<rect x="438" y="110" width="1" height="28" fill="#32cd32"/>
<rect x="436" y="114" width="5" height="10" fill="#32cd32"/>
<rect x="446" y="119" width="1" height="4" fill="#ff0000"/>
<rect x="444" y="120" width="5" height="2" fill="#ff0000"/>
<rect x="454" y="104" width="1" height="37" fill="#32cd32"/>
<rect x="452" y="120" width="5" height="16" fill="#32cd32"/>
<rect x="462" y="112" width="1" height="27" fill="#ff0000"/>
<rect x="460" y="121" width="5" height="15" fill="#ff0000"/>
<rect x="461" y="122" width="3" height="13" fill="#ff4500"/>
<rect x="470" y="110" width="1" height="29" fill="#32cd32"/>
<rect x="468" y="120" width="5" height="19" fill="#32cd32"/>
<rect x="478" y="122" width="1" height="43" fill="#32cd32"/>
<rect x="476" y="138" width="5" height="21" fill="#32cd32"/>
<rect x="486" y="155" width="1" height="70" fill="#32cd32"/>
<rect x="484" y="158" width="5" height="56" fill="#32cd32"/>
<rect x="494" y="203" width="1" height="17" fill="#ff0000"/>
<rect x="492" y="203" width="5" height="16" fill="#ff0000"/>
<rect x="493" y="204" width="3" height="14" fill="#ff4500"/>
<rect x="502" y="140" width="1" height="72" fill="#ff0000"/>
<rect x="500" y="155" width="5" height="50" fill="#ff0000"/>
<rect x="501" y="156" width="3" height="48" fill="#ff4500"/>
<rect x="510" y="147" width="1" height="53" fill="#32cd32"/>
<rect x="508" y="154" width="5" height="26" fill="#32cd32"/>
<rect x="518" y="146" width="1" height="41" fill="#ff0000"/>
<rect x="516" y="150" width="5" height="30" fill="#ff0000"/>
<rect x="517" y="151" width="3" height="28" fill="#ff4500"/>
<rect x="526" y="122" width="1" height="58" fill="#32cd32"/>
<rect x="524" y="150" width="5" height="17" fill="#32cd32"/>
<rect x="534" y="165" width="1" height="54" fill="#32cd32"/>
<rect x="532" y="166" width="5" height="53" fill="#32cd32"/>
<rect x="542" y="205" width="1" height="13" fill="#ff0000"/>
<rect x="540" y="209" width="5" height="4" fill="#ff0000"/>
<rect x="541" y="210" width="3" height="2" fill="#ff4500"/>
<rect x="550" y="183" width="1" height="48" fill="#ff0000"/>
<rect x="548" y="200" width="5" height="11" fill="#ff0000"/>
<rect x="549" y="201" width="3" height="9" fill="#ff4500"/>
<rect x="558" y="197" width="1" height="56" fill="#32cd32"/>
<rect x="556" y="199" width="5" height="48" fill="#32cd32"/>
<rect x="566" y="245" width="1" height="46" fill="#32cd32"/>
<rect x="564" y="246" width="5" height="41" fill="#32cd32"/>
<rect x="574" y="276" width="1" height="37" fill="#ff0000"/>
<rect x="572" y="283" width="5" height="3" fill="#ff0000"/>
<rect x="573" y="284" width="3" height="1" fill="#ff4500"/>
<rect x="582" y="250" width="1" height="54" fill="#ff0000"/>
<rect x="580" y="255" width="5" height="28" fill="#ff0000"/>
<rect x="581" y="256" width="3" height="26" fill="#ff4500"/>
<rect x="590" y="257" width="1" height="10" fill="#32cd32"/>
<rect x="588" y="264" width="5" height="2" fill="#32cd32"/>
<rect x="598" y="260" width="1" height="28" fill="#32cd32"/>
<rect x="596" y="265" width="5" height="15" fill="#32cd32"/>
<rect x="606" y="254" width="1" height="43" fill="#32cd32"/>
<rect x="604" y="279" width="5" height="11" fill="#32cd32"/>
<rect x="614" y="274" width="1" height="42" fill="#ff0000"/>
<rect x="612" y="282" width="5" height="8" fill="#ff0000"/>
<rect x="613" y="283" width="3" height="6" fill="#ff4500"/>
<rect x="622" y="279" width="1" height="34" fill="#32cd32"/>
<rect x="620" y="282" width="5" height="6" fill="#32cd32"/>
<rect x="630" y="248" width="1" height="41" fill="#ff0000"/>
<rect x="628" y="249" width="5" height="39" fill="#ff0000"/>
<rect x="629" y="250" width="3" height="37" fill="#ff4500"/>
<rect x="638" y="245" width="1" height="11" fill="#32cd32"/>
<rect x="636" y="247" width="5" height="9" fill="#32cd32"/>
<rect x="646" y="180" width="1" height="79" fill="#ff0000"/>
<rect x="644" y="221" width="5" height="34" fill="#ff0000"/>
<rect x="645" y="222" width="3" height="32" fill="#ff4500"/>
<rect x="654" y="198" width="1" height="39" fill="#32cd32"/>
<rect x="652" y="221" width="5" height="5" fill="#32cd32"/>
<rect x="662" y="188" width="1" height="69" fill="#ff0000"/>
<rect x="660" y="205" width="5" height="22" fill="#ff0000"/>
<rect x="661" y="206" width="3" height="20" fill="#ff4500"/>
<rect x="670" y="156" width="1" height="53" fill="#ff0000"/>
<rect x="668" y="157" width="5" height="49" fill="#ff0000"/>
<rect x="669" y="158" width="3" height="47" fill="#ff4500"/>
<rect x="678" y="130" width="1" height="46" fill="#ff0000"/>
<rect x="676" y="136" width="5" height="22" fill="#ff0000"/>
<rect x="677" y="137" width="3" height="20" fill="#ff4500"/>
<rect x="686" y="141" width="1" height="10" fill="#32cd32"/>
<rect x="684" y="147" width="5" height="4" fill="#32cd32"/>
<rect x="694" y="142" width="1" height="50" fill="#32cd32"/>
<rect x="692" y="150" width="5" height="23" fill="#32cd32"/>
<rect x="702" y="168" width="1" height="38" fill="#32cd32"/>
<rect x="700" y="172" width="5" height="16" fill="#32cd32"/>
<rect x="710" y="179" width="1" height="30" fill="#32cd32"/>
<rect x="708" y="187" width="5" height="3" fill="#32cd32"/>
<rect x="718" y="173" width="1" height="32" fill="#32cd32"/>
<rect x="716" y="189" width="5" height="5" fill="#32cd32"/>
<rect x="726" y="135" width="1" height="67" fill="#ff0000"/>
<rect x="724" y="155" width="5" height="38" fill="#ff0000"/>
<rect x="725" y="156" width="3" height="36" fill="#ff4500"/>
<rect x="734" y="154" width="1" height="4" fill="#32cd32"/>
<rect x="732" y="156" width="5" height="2" fill="#32cd32"/>
<rect x="742" y="152" width="1" height="53" fill="#32cd32"/>
<rect x="740" y="157" width="5" height="44" fill="#32cd32"/>
<rect x="750" y="171" width="1" height="30" fill="#ff0000"/>
<rect x="748" y="178" width="5" height="22" fill="#ff0000"/>
<rect x="749" y="179" width="3" height="20" fill="#ff4500"/>
<rect x="758" y="173" width="1" height="28" fill="#32cd32"/>
<rect x="756" y="178" width="5" height="17" fill="#32cd32"/>
<rect x="766" y="163" width="1" height="53" fill="#ff0000"/>
<rect x="764" y="164" width="5" height="31" fill="#ff0000"/>
<rect x="765" y="165" width="3" height="29" fill="#ff4500"/>
<rect x="774" y="155" width="1" height="44" fill="#ff0000"/>
<rect x="772" y="160" width="5" height="5" fill="#ff0000"/>
<rect x="773" y="161" width="3" height="3" fill="#ff4500"/>
<rect x="782" y="159" width="1" height="13" fill="#32cd32"/>
<rect x="780" y="164" width="5" height="6" fill="#32cd32"/>
<rect x="790" y="137" width="1" height="35" fill="#ff0000"/>
<rect x="788" y="166" width="5" height="4" fill="#ff0000"/>
<rect x="789" y="167" width="3" height="2" fill="#ff4500"/>
<rect x="798" y="142" width="1" height="39" fill="#32cd32"/>
<rect x="796" y="167" width="5" height="2" fill="#32cd32"/>
<rect x="806" y="168" width="1" height="34" fill="#32cd32"/>
<rect x="804" y="168" width="5" height="17" fill="#32cd32"/>
<rect x="814" y="163" width="1" height="32" fill="#ff0000"/>
<rect x="812" y="177" width="5" height="7" fill="#ff0000"/>
<rect x="813" y="178" width="3" height="5" fill="#ff4500"/>
<rect x="822" y="151" width="1" height="46" fill="#ff0000"/>
<rect x="820" y="158" width="5" height="20" fill="#ff0000"/>
<rect x="821" y="159" width="3" height="18" fill="#ff4500"/>
<rect x="830" y="149" width="1" height="7" fill="#ff0000"/>
<rect x="828" y="152" width="5" height="4" fill="#ff0000"/>
<rect x="829" y="153" width="3" height="2" fill="#ff4500"/>
<rect x="838" y="147" width="1" height="24" fill="#ff0000"/>
<rect x="836" y="151" width="5" height="1" fill="#ff0000"/>
<rect x="846" y="138" width="1" height="35" fill="#ff0000"/>
<rect x="844" y="146" width="5" height="6" fill="#ff0000"/>
<rect x="845" y="147" width="3" height="4" fill="#ff4500"/>
<rect x="854" y="145" width="1" height="47" fill="#32cd32"/>
<rect x="852" y="146" width="5" height="18" fill="#32cd32"/>
<rect x="862" y="88" width="1" height="78" fill="#ff0000"/>
<rect x="860" y="125" width="5" height="40" fill="#ff0000"/>
<rect x="861" y="126" width="3" height="38" fill="#ff4500"/>
<rect x="870" y="118" width="1" height="59" fill="#32cd32"/>
<rect x="868" y="125" width="5" height="52" fill="#32cd32"/>
<rect x="878" y="150" width="1" height="11" fill="#ff0000"/>
<rect x="876" y="153" width="5" height="2" fill="#ff0000"/>
<rect x="886" y="124" width="1" height="80" fill="#32cd32"/>
<rect x="884" y="152" width="5" height="48" fill="#32cd32"/>
<rect x="894" y="155" width="1" height="52" fill="#ff0000"/>
<rect x="892" y="169" width="5" height="31" fill="#ff0000"/>
<rect x="893" y="170" width="3" height="29" fill="#ff4500"/>
<rect x="902" y="158" width="1" height="63" fill="#32cd32"/>
<rect x="900" y="169" width="5" height="42" fill="#32cd32"/>
<rect x="910" y="185" width="1" height="57" fill="#ff0000"/>
<rect x="908" y="197" width="5" height="14" fill="#ff0000"/>
<rect x="909" y="198" width="3" height="12" fill="#ff4500"/>
<rect x="918" y="133" width="1" height="66" fill="#ff0000"/>
<rect x="916" y="160" width="5" height="38" fill="#ff0000"/>
<rect x="917" y="161" width="3" height="36" fill="#ff4500"/>
</g>
<rect x="1169" y="36" width="2" height="1" fill="#000"/>
<text transform="translate(1174.60,40) scale(0.9400,1)" font-size="10" fill="#000" stroke="#000" stroke-width="0.3">1.29745</text>
<rect x="1169" y="69" width="2" height="1" fill="#000"/>
<text transform="translate(1174.60,73) scale(0.9400,1)" font-size="10" fill="#000" stroke="#000" stroke-width="0.3">1.29115</text>
<rect x="1169" y="102" width="2" height="1" fill="#000"/>
<text transform="translate(1174.60,106) scale(0.9400,1)" font-size="10" fill="#000" stroke="#000" stroke-width="0.3">1.28485</text>
<rect x="1169" y="135" width="2" height="1" fill="#000"/>
<text transform="translate(1174.60,139) scale(0.9400,1)" font-size="10" fill="#000" stroke="#000" stroke-width="0.3">1.27870</text>
<rect x="1169" y="168" width="2" height="1" fill="#000"/>
<text transform="translate(1174.60,172) scale(0.9400,1)" font-size="10" fill="#000" stroke="#000" stroke-width="0.3">1.27240</text>
<rect x="1169" y="201" width="2" height="1" fill="#000"/>
<text transform="translate(1174.60,205) scale(0.9400,1)" font-size="10" fill="#000" stroke="#000" stroke-width="0.3">1.26625</text>
<rect x="1169" y="234" width="2" height="1" fill="#000"/>
<text transform="translate(1174.60,238) scale(0.9400,1)" font-size="10" fill="#000" stroke="#000" stroke-width="0.3">1.25995</text>
<rect x="1169" y="267" width="2" height="1" fill="#000"/>
<text transform="translate(1174.60,271) scale(0.9400,1)" font-size="10" fill="#000" stroke="#000" stroke-width="0.3">1.25365</text>
<rect x="1169" y="300" width="2" height="1" fill="#000"/>
<text transform="translate(1174.60,304) scale(0.9400,1)" font-size="10" fill="#000" stroke="#000" stroke-width="0.3">1.24750</text>
<rect x="1169" y="333" width="2" height="1" fill="#000"/>
<text transform="translate(1174.60,337) scale(0.9400,1)" font-size="10" fill="#000" stroke="#000" stroke-width="0.3">1.24120</text>
<rect x="1169" y="366" width="2" height="1" fill="#000"/>
<text transform="translate(1174.60,370) scale(0.9400,1)" font-size="10" fill="#000" stroke="#000" stroke-width="0.3">1.23505</text>
<rect x="1169" y="399" width="2" height="1" fill="#000"/>
<text transform="translate(1174.60,403) scale(0.9400,1)" font-size="10" fill="#000" stroke="#000" stroke-width="0.3">1.22875</text>
<rect x="1170" y="155" width="37" height="11" fill="#000"/>
<text transform="translate(1174.60,164) scale(0.9400,1)" font-size="10" fill="#fff" stroke="#fff" stroke-width="0.3">1.27401</text>
<rect x="1170" y="74" width="37" height="11" fill="#ff0000"/>
<text transform="translate(1174.60,83) scale(0.9400,1)" font-size="10" fill="#fff" stroke="#fff" stroke-width="0.3">1.28912</text>
<rect x="1170" y="148" width="37" height="11" fill="#ff0000"/>
<text transform="translate(1174.60,157) scale(0.9400,1)" font-size="10" fill="#fff" stroke="#fff" stroke-width="0.3">1.27515</text>
<rect x="1170" y="212" width="37" height="11" fill="#00ff00"/>
<text transform="translate(1174.60,221) scale(0.9400,1)" font-size="10" fill="#fff" stroke="#fff" stroke-width="0.3">1.26297</text>
<rect x="1170" y="291" width="37" height="11" fill="#0000ff"/>
<text transform="translate(1174.60,300) scale(0.9400,1)" font-size="10" fill="#fff" stroke="#fff" stroke-width="0.3">1.24816</text>
<rect x="1170" y="376" width="37" height="11" fill="#0000ff"/>
<text transform="translate(1174.60,385) scale(0.9400,1)" font-size="10" fill="#fff" stroke="#fff" stroke-width="0.3">1.23200</text>
<path d="M9 30 h7 l-3.5 4z" fill="#000"/>
<text transform="translate(21.50,35) scale(0.9624,1)" font-size="10" fill="#000" stroke="#000" stroke-width="0.3">USDCAD-,Daily</text>
<text transform="translate(96.40,35) scale(0.8988,1)" font-size="10" fill="#000" stroke="#000" stroke-width="0.3" word-spacing="0.9">1.26694 1.27910 1.26688 1.27401</text>
<g clip-path="url(#c2)">
<rect x="5" y="441" width="3" height="29" fill="#c0c0c0"/>
<rect x="13" y="441" width="3" height="27" fill="#c0c0c0"/>
<rect x="21" y="441" width="3" height="27" fill="#c0c0c0"/>
<rect x="29" y="441" width="3" height="25" fill="#c0c0c0"/>
<rect x="37" y="441" width="3" height="24" fill="#c0c0c0"/>
<rect x="45" y="441" width="3" height="24" fill="#c0c0c0"/>
<rect x="53" y="441" width="3" height="23" fill="#c0c0c0"/>
<rect x="61" y="441" width="3" height="21" fill="#c0c0c0"/>
<rect x="69" y="441" width="3" height="20" fill="#c0c0c0"/>
<rect x="77" y="441" width="3" height="18" fill="#c0c0c0"/>
<rect x="85" y="441" width="3" height="17" fill="#c0c0c0"/>
<rect x="93" y="441" width="3" height="13" fill="#c0c0c0"/>
<rect x="101" y="441" width="3" height="11" fill="#c0c0c0"/>
<rect x="109" y="441" width="3" height="8" fill="#c0c0c0"/>
<rect x="117" y="441" width="3" height="7" fill="#c0c0c0"/>
<rect x="125" y="441" width="3" height="6" fill="#c0c0c0"/>
<rect x="133" y="441" width="3" height="3" fill="#c0c0c0"/>
<rect x="141" y="439" width="3" height="2" fill="#c0c0c0"/>
<rect x="149" y="436" width="3" height="5" fill="#c0c0c0"/>
<rect x="157" y="434" width="3" height="7" fill="#c0c0c0"/>
<rect x="165" y="433" width="3" height="8" fill="#c0c0c0"/>
<rect x="173" y="431" width="3" height="10" fill="#c0c0c0"/>
<rect x="181" y="429" width="3" height="12" fill="#c0c0c0"/>
<rect x="189" y="427" width="3" height="14" fill="#c0c0c0"/>
<rect x="197" y="424" width="3" height="17" fill="#c0c0c0"/>
<rect x="205" y="422" width="3" height="19" fill="#c0c0c0"/>
<rect x="213" y="419" width="3" height="22" fill="#c0c0c0"/>
<rect x="221" y="418" width="3" height="23" fill="#c0c0c0"/>
<rect x="229" y="418" width="3" height="23" fill="#c0c0c0"/>
<rect x="237" y="418" width="3" height="23" fill="#c0c0c0"/>
<rect x="245" y="415" width="3" height="26" fill="#c0c0c0"/>
<rect x="253" y="414" width="3" height="27" fill="#c0c0c0"/>
<rect x="261" y="414" width="3" height="27" fill="#c0c0c0"/>
<rect x="269" y="413" width="3" height="28" fill="#c0c0c0"/>
<rect x="277" y="411" width="3" height="30" fill="#c0c0c0"/>
<rect x="285" y="410" width="3" height="31" fill="#c0c0c0"/>
<rect x="293" y="409" width="3" height="32" fill="#c0c0c0"/>
<rect x="301" y="409" width="3" height="32" fill="#c0c0c0"/>
<rect x="309" y="411" width="3" height="30" fill="#c0c0c0"/>
<rect x="317" y="416" width="3" height="25" fill="#c0c0c0"/>
<rect x="325" y="420" width="3" height="21" fill="#c0c0c0"/>
<rect x="333" y="422" width="3" height="19" fill="#c0c0c0"/>
<rect x="341" y="424" width="3" height="17" fill="#c0c0c0"/>
<rect x="349" y="425" width="3" height="16" fill="#c0c0c0"/>
<rect x="357" y="423" width="3" height="18" fill="#c0c0c0"/>
<rect x="365" y="421" width="3" height="20" fill="#c0c0c0"/>
<rect x="373" y="421" width="3" height="20" fill="#c0c0c0"/>
<rect x="381" y="422" width="3" height="19" fill="#c0c0c0"/>
<rect x="389" y="419" width="3" height="22" fill="#c0c0c0"/>
<rect x="397" y="417" width="3" height="24" fill="#c0c0c0"/>
<rect x="405" y="415" width="3" height="26" fill="#c0c0c0"/>
<rect x="413" y="414" width="3" height="27" fill="#c0c0c0"/>
<rect x="421" y="416" width="3" height="25" fill="#c0c0c0"/>
<rect x="429" y="419" width="3" height="22" fill="#c0c0c0"/>
<rect x="437" y="420" width="3" height="21" fill="#c0c0c0"/>
<rect x="445" y="422" width="3" height="19" fill="#c0c0c0"/>
<rect x="453" y="425" width="3" height="16" fill="#c0c0c0"/>
<rect x="461" y="427" width="3" height="14" fill="#c0c0c0"/>
<rect x="469" y="429" width="3" height="12" fill="#c0c0c0"/>
<rect x="477" y="432" width="3" height="9" fill="#c0c0c0"/>
<rect x="485" y="437" width="3" height="4" fill="#c0c0c0"/>
<rect x="493" y="441" width="3" height="1" fill="#c0c0c0"/>
<rect x="501" y="441" width="3" height="2" fill="#c0c0c0"/>
<rect x="509" y="441" width="3" height="3" fill="#c0c0c0"/>
<rect x="517" y="441" width="3" height="3" fill="#c0c0c0"/>
<rect x="525" y="441" width="3" height="3" fill="#c0c0c0"/>
<rect x="533" y="441" width="3" height="7" fill="#c0c0c0"/>
<rect x="541" y="441" width="3" height="9" fill="#c0c0c0"/>
<rect x="549" y="441" width="3" height="10" fill="#c0c0c0"/>
<rect x="557" y="441" width="3" height="13" fill="#c0c0c0"/>
<rect x="565" y="441" width="3" height="18" fill="#c0c0c0"/>
<rect x="573" y="441" width="3" height="21" fill="#c0c0c0"/>
<rect x="581" y="441" width="3" height="22" fill="#c0c0c0"/>
<rect x="589" y="441" width="3" height="23" fill="#c0c0c0"/>
<rect x="597" y="441" width="3" height="24" fill="#c0c0c0"/>
<rect x="605" y="441" width="3" height="25" fill="#c0c0c0"/>
<rect x="613" y="441" width="3" height="26" fill="#c0c0c0"/>
<rect x="621" y="441" width="3" height="26" fill="#c0c0c0"/>
<rect x="629" y="441" width="3" height="24" fill="#c0c0c0"/>
<rect x="637" y="441" width="3" height="22" fill="#c0c0c0"/>
<rect x="645" y="441" width="3" height="18" fill="#c0c0c0"/>
<rect x="653" y="441" width="3" height="16" fill="#c0c0c0"/>
<rect x="661" y="441" width="3" height="12" fill="#c0c0c0"/>
<rect x="669" y="441" width="3" height="7" fill="#c0c0c0"/>
<rect x="677" y="441" width="3" height="1" fill="#c0c0c0"/>
<rect x="685" y="438" width="3" height="3" fill="#c0c0c0"/>
<rect x="693" y="436" width="3" height="5" fill="#c0c0c0"/>
<rect x="701" y="436" width="3" height="5" fill="#c0c0c0"/>
<rect x="709" y="436" width="3" height="5" fill="#c0c0c0"/>
<rect x="717" y="436" width="3" height="5" fill="#c0c0c0"/>
<rect x="725" y="434" width="3" height="7" fill="#c0c0c0"/>
<rect x="733" y="433" width="3" height="8" fill="#c0c0c0"/>
<rect x="741" y="434" width="3" height="7" fill="#c0c0c0"/>
<rect x="749" y="434" width="3" height="7" fill="#c0c0c0"/>
<rect x="757" y="435" width="3" height="6" fill="#c0c0c0"/>
<rect x="765" y="434" width="3" height="7" fill="#c0c0c0"/>
<rect x="773" y="433" width="3" height="8" fill="#c0c0c0"/>
<rect x="781" y="433" width="3" height="8" fill="#c0c0c0"/>
<rect x="789" y="433" width="3" height="8" fill="#c0c0c0"/>
<rect x="797" y="433" width="3" height="8" fill="#c0c0c0"/>
<rect x="805" y="434" width="3" height="7" fill="#c0c0c0"/>
<rect x="813" y="434" width="3" height="7" fill="#c0c0c0"/>
<rect x="821" y="434" width="3" height="7" fill="#c0c0c0"/>
<rect x="829" y="433" width="3" height="8" fill="#c0c0c0"/>
<rect x="837" y="433" width="3" height="8" fill="#c0c0c0"/>
<rect x="845" y="432" width="3" height="9" fill="#c0c0c0"/>
<rect x="853" y="433" width="3" height="8" fill="#c0c0c0"/>
<rect x="861" y="431" width="3" height="10" fill="#c0c0c0"/>
<rect x="869" y="434" width="3" height="7" fill="#c0c0c0"/>
<rect x="877" y="434" width="3" height="7" fill="#c0c0c0"/>
<rect x="885" y="436" width="3" height="5" fill="#c0c0c0"/>
<rect x="893" y="436" width="3" height="5" fill="#c0c0c0"/>
<rect x="901" y="439" width="3" height="2" fill="#c0c0c0"/>
<rect x="909" y="441" width="3" height="1" fill="#c0c0c0"/>
<rect x="917" y="440" width="3" height="1" fill="#c0c0c0"/>
<path d="M6 467h4v1h-4zM10 468h8v1h-8zM18 469h17v1h-17zM35 468h16v1h-16zM51 467h8v1h-8zM59 466h6v1h-6zM65 465h4v1h-4zM69 464h6v1h-6zM75 463h6v1h-6zM81 462h4v1h-4zM85 461h6v1h-6zM91 460h8v1h-8zM99 459h6v1h-6zM105 458h4v1h-4zM109 457h4v1h-4zM113 456h4v1h-4zM117 455h4v1h-4zM121 454h4v1h-4zM125 453h4v1h-4zM129 452h4v1h-4zM133 451h4v1h-4zM137 450h4v1h-4zM141 449h4v1h-4zM145 448h4v1h-4zM149 447h3v1h-3zM152 446h3v1h-3zM155 445h2v1h-2zM157 444h4v1h-4zM161 443h4v1h-4zM165 442h4v1h-4zM169 441h4v1h-4zM173 440h6v1h-6zM179 439h5v1h-5zM184 438h2v1h-2zM186 437h2v1h-2zM188 436h2v1h-2zM190 435h3v1h-3zM193 434h4v1h-4zM197 433h4v1h-4zM201 432h4v1h-4zM205 431h3v1h-3zM208 430h3v1h-3zM211 429h2v1h-2zM213 428h4v1h-4zM217 427h4v1h-4zM221 426h6v1h-6zM227 425h6v1h-6zM233 424h4v1h-4zM237 423h4v1h-4zM241 422h4v1h-4zM245 421h6v1h-6zM251 420h6v1h-6zM257 419h4v1h-4zM261 418h6v1h-6zM267 417h8v1h-8zM275 416h8v1h-8zM283 415h6v1h-6zM289 414h4v1h-4zM293 413h6v1h-6zM299 412h31v1h-31zM330 413h8v1h-8zM338 414h6v1h-6zM344 415h4v1h-4zM348 416h4v1h-4zM352 417h4v1h-4zM356 418h6v1h-6zM362 419h8v1h-8zM370 420h8v1h-8zM378 421h8v1h-8zM386 422h9v1h-9zM395 421h14v1h-14zM409 420h4v1h-4zM413 419h6v1h-6zM419 418h31v1h-31zM450 419h14v1h-14zM464 420h4v1h-4zM468 421h4v1h-4zM472 422h4v1h-4zM476 423h4v1h-4zM480 424h4v1h-4zM484 425h4v1h-4zM488 426h2v1h-2zM490 427h3v1h-3zM493 428h3v1h-3zM496 429h2v1h-2zM498 430h3v1h-3zM501 431h5v1h-5zM506 432h6v1h-6zM512 433h2v1h-2zM514 434h3v1h-3zM517 435h3v1h-3zM520 436h4v1h-4zM524 437h4v1h-4zM528 438h2v1h-2zM530 439h3v1h-3zM533 440h3v1h-3zM536 441h4v1h-4zM540 442h4v1h-4zM544 443h4v1h-4zM548 444h4v1h-4zM552 445h4v1h-4zM556 446h6v1h-6zM562 447h6v1h-6zM568 448h4v1h-4zM572 449h4v1h-4zM576 450h2v1h-2zM578 451h3v1h-3zM581 452h3v1h-3zM584 453h4v1h-4zM588 454h4v1h-4zM592 455h4v1h-4zM596 456h6v1h-6zM602 457h6v1h-6zM608 458h2v1h-2zM610 459h3v1h-3zM613 460h3v1h-3zM616 461h4v1h-4zM620 462h6v1h-6zM626 463h31v1h-31zM657 462h4v1h-4zM661 461h4v1h-4zM665 460h4v1h-4zM669 459h4v1h-4zM673 458h4v1h-4zM677 457h3v1h-3zM680 456h2v1h-2zM682 455h2v1h-2zM684 454h2v1h-2zM686 453h2v1h-2zM688 452h3v1h-3zM691 451h2v1h-2zM693 450h3v1h-3zM696 449h3v1h-3zM699 448h2v1h-2zM701 447h3v1h-3zM704 446h3v1h-3zM707 445h2v1h-2zM709 444h4v1h-4zM713 443h4v1h-4zM717 442h3v1h-3zM720 441h3v1h-3zM723 440h2v1h-2zM725 439h4v1h-4zM729 438h4v1h-4zM733 437h6v1h-6zM739 436h8v1h-8zM747 435h24v1h-24zM771 434h80v1h-80zM851 433h47v1h-47zM898 434h8v1h-8zM906 435h8v1h-8zM914 436h5v1h-5z" fill="#ff0000"/>
</g>
<text transform="translate(10.50,417) scale(0.9172,1)" font-size="10" fill="#000" stroke="#000" stroke-width="0.3" word-spacing="0.8">MACD(12,26,9) 0.000224 0.001271</text>
<rect x="1169" y="404" width="1" height="1" fill="#000"/>
<rect x="1169" y="441" width="2" height="1" fill="#000"/>
<rect x="1169" y="473" width="1" height="1" fill="#000"/>
<text transform="translate(1172.30,415) scale(0.9400,1)" font-size="10" fill="#000" stroke="#000" stroke-width="0.3">0.009327</text>
<text transform="translate(1172.30,445) scale(0.9400,1)" font-size="10" fill="#000" stroke="#000" stroke-width="0.3">0.00</text>
<text transform="translate(1172.30,470) scale(0.9400,1)" font-size="10" fill="#000" stroke="#000" stroke-width="0.3">-0.008523</text>
<g clip-path="url(#c3)">
<line x1="7" y1="497.5" x2="1168" y2="497.5" stroke="#c0c0c0" stroke-width="1" stroke-dasharray="3 3"/>
<line x1="7" y1="525.5" x2="1168" y2="525.5" stroke="#c0c0c0" stroke-width="1" stroke-dasharray="3 3"/>
<path d="M6 523h5v1h-5zM11 522h8v1h-8zM19 521h8v1h-8zM27 520h7v1h-7zM34 521h6v1h-6zM40 522h4v1h-4zM44 523h4v1h-4zM48 522h2v1h-2zM50 521h2v1h-2zM52 520h2v1h-2zM54 519h5v1h-5zM59 518h7v1h-7zM66 519h6v1h-6zM72 518h2v1h-2zM74 517h2v1h-2zM76 516h2v1h-2zM78 515h2v1h-2zM80 516h2v1h-2zM82 517h3v1h-3zM85 518h2v1h-2zM87 517h1v1h-1zM88 516h1v1h-1zM89 515h1v1h-1zM90 514h1v1h-1zM91 513h1v1h-1zM92 512h1v1h-1zM93 511h1v1h-1zM94 510h5v1h-5zM99 509h7v1h-7zM106 510h8v1h-8zM114 511h8v1h-8zM122 512h5v1h-5zM127 511h2v1h-2zM129 510h1v1h-1zM130 509h1v1h-1zM131 508h2v1h-2zM133 507h1v1h-1zM134 506h1v1h-1zM135 505h1v1h-1zM136 504h1v1h-1zM137 503h2v1h-2zM139 502h1v1h-1zM140 501h1v1h-1zM141 500h1v1h-1zM142 499h1v1h-1zM143 500h2v1h-2zM145 501h2v1h-2zM147 502h2v1h-2zM149 503h5v1h-5zM154 504h6v1h-6zM160 505h2v1h-2zM162 506h3v1h-3zM165 507h3v1h-3zM168 506h2v1h-2zM170 505h2v1h-2zM172 504h2v1h-2zM174 503h3v1h-3zM177 502h4v1h-4zM181 501h11v1h-11zM192 500h3v1h-3zM195 499h2v1h-2zM197 498h5v1h-5zM202 499h7v1h-7zM209 498h4v1h-4zM213 497h3v1h-3zM216 498h2v1h-2zM218 499h3v1h-3zM221 500h5v1h-5zM226 501h13v1h-13zM239 500h2v1h-2zM241 499h1v1h-1zM242 498h1v1h-1zM243 497h2v1h-2zM245 496h1v1h-1zM246 495h1v1h-1zM247 496h1v1h-1zM248 497h2v1h-2zM250 498h1v1h-1zM251 499h1v1h-1zM252 500h2v1h-2zM254 501h5v1h-5zM259 500h6v1h-6zM265 499h4v1h-4zM269 498h6v1h-6zM275 497h8v1h-8zM283 496h15v1h-15zM298 497h5v1h-5zM303 498h1v1h-1zM304 499h2v1h-2zM306 500h1v1h-1zM307 501h1v1h-1zM308 502h2v1h-2zM310 503h1v1h-1zM311 504h1v1h-1zM312 505h1v2h-1zM313 507h1v1h-1zM314 508h1v1h-1zM315 509h1v1h-1zM316 510h1v2h-1zM317 512h1v1h-1zM318 513h10v1h-10zM328 512h2v1h-2zM330 511h2v1h-2zM332 510h2v1h-2zM334 509h3v1h-3zM337 508h4v1h-4zM341 507h5v1h-5zM346 508h5v1h-5zM351 507h2v1h-2zM353 506h2v1h-2zM355 505h1v1h-1zM356 504h2v1h-2zM358 503h2v1h-2zM360 502h3v1h-3zM363 501h2v1h-2zM365 500h3v1h-3zM368 501h2v1h-2zM370 502h3v1h-3zM373 503h2v1h-2zM375 504h2v1h-2zM377 505h2v1h-2zM379 506h2v1h-2zM381 507h2v1h-2zM383 506h2v1h-2zM385 505h2v1h-2zM387 504h1v1h-1zM388 503h2v1h-2zM390 502h5v1h-5zM395 501h8v1h-8zM403 500h7v1h-7zM410 501h5v1h-5zM415 502h2v1h-2zM417 503h1v1h-1zM418 504h2v1h-2zM420 505h2v1h-2zM422 506h2v1h-2zM424 507h4v1h-4zM428 508h6v1h-6zM434 509h14v1h-14zM448 510h4v1h-4zM452 511h5v1h-5zM457 510h4v1h-4zM461 509h3v1h-3zM464 510h2v1h-2zM466 511h3v1h-3zM469 512h3v1h-3zM472 513h4v1h-4zM476 514h3v1h-3zM479 515h1v1h-1zM480 516h2v1h-2zM482 517h1v1h-1zM483 518h1v1h-1zM484 519h2v1h-2zM486 520h5v1h-5zM491 519h4v1h-4zM495 518h1v1h-1zM496 517h1v1h-1zM497 516h2v1h-2zM499 515h1v1h-1zM500 514h1v1h-1zM501 513h1v1h-1zM502 512h2v1h-2zM504 513h2v1h-2zM506 514h3v1h-3zM509 515h3v1h-3zM512 514h2v1h-2zM514 513h2v1h-2zM516 512h2v1h-2zM518 511h2v1h-2zM520 512h4v1h-4zM524 513h3v1h-3zM527 514h2v1h-2zM529 515h1v1h-1zM530 516h2v1h-2zM532 517h2v1h-2zM534 518h5v1h-5zM539 517h8v1h-8zM547 516h4v1h-4zM551 517h2v1h-2zM553 518h2v1h-2zM555 519h2v1h-2zM557 520h3v1h-3zM560 521h2v1h-2zM562 522h3v1h-3zM565 523h11v1h-11zM576 522h2v1h-2zM578 521h2v1h-2zM580 520h2v1h-2zM582 519h4v1h-4zM586 520h8v1h-8zM594 521h8v1h-8zM602 522h9v1h-9zM611 521h12v1h-12zM623 520h2v1h-2zM625 519h1v1h-1zM626 518h1v1h-1zM627 517h2v1h-2zM629 516h1v1h-1zM630 515h4v1h-4zM634 516h5v1h-5zM639 515h2v1h-2zM641 514h2v1h-2zM643 513h1v1h-1zM644 512h2v1h-2zM646 511h4v1h-4zM650 512h6v1h-6zM656 511h3v1h-3zM659 510h2v1h-2zM661 509h2v1h-2zM663 508h2v1h-2zM665 507h2v1h-2zM667 506h1v1h-1zM668 505h2v1h-2zM670 504h3v1h-3zM673 503h4v1h-4zM677 502h3v1h-3zM680 503h4v1h-4zM684 504h4v1h-4zM688 505h2v1h-2zM690 506h3v1h-3zM693 507h3v1h-3zM696 508h4v1h-4zM700 509h6v1h-6zM706 510h13v1h-13zM719 509h2v1h-2zM721 508h2v1h-2zM723 507h1v1h-1zM724 506h2v1h-2zM726 505h4v1h-4zM730 506h5v1h-5zM735 507h1v1h-1zM736 508h2v1h-2zM738 509h1v1h-1zM739 510h1v1h-1zM740 511h2v1h-2zM742 512h2v1h-2zM744 511h3v1h-3zM747 510h2v1h-2zM749 509h3v1h-3zM752 510h4v1h-4zM756 511h4v1h-4zM760 510h3v1h-3zM763 509h2v1h-2zM765 508h6v1h-6zM771 507h5v1h-5zM776 508h4v1h-4zM780 509h7v1h-7zM787 508h7v1h-7zM794 509h6v1h-6zM800 510h4v1h-4zM804 511h7v1h-7zM811 510h5v1h-5zM816 509h3v1h-3zM819 508h2v1h-2zM821 507h6v1h-6zM827 506h21v1h-21zM848 507h2v1h-2zM850 508h3v1h-3zM853 509h2v1h-2zM855 508h2v1h-2zM857 507h1v1h-1zM858 506h1v1h-1zM859 505h2v1h-2zM861 504h1v1h-1zM862 503h1v1h-1zM863 504h1v1h-1zM864 505h1v1h-1zM865 506h1v1h-1zM866 507h1v2h-1zM867 509h1v1h-1zM868 510h1v1h-1zM869 511h1v1h-1zM870 512h2v1h-2zM872 511h3v1h-3zM875 510h2v1h-2zM877 509h2v1h-2zM879 510h1v1h-1zM880 511h2v1h-2zM882 512h1v1h-1zM883 513h1v1h-1zM884 514h2v1h-2zM886 515h2v1h-2zM888 514h2v1h-2zM890 513h2v1h-2zM892 512h2v1h-2zM894 511h1v1h-1zM895 512h2v1h-2zM897 513h1v1h-1zM898 514h2v1h-2zM900 515h2v1h-2zM902 516h3v1h-3zM905 515h4v1h-4zM909 514h3v1h-3zM912 513h2v1h-2zM914 512h2v1h-2zM916 511h2v1h-2zM918 510h1v1h-1z" fill="#1e90ff"/>
</g>
<text transform="translate(10.50,488) scale(0.9122,1)" font-size="10" fill="#000" stroke="#000" stroke-width="0.3" word-spacing="0.6">RSI(14) 52.5848</text>
<rect x="1169" y="475" width="1" height="1" fill="#000"/>
<rect x="1169" y="547" width="1" height="1" fill="#000"/>
<text transform="translate(1172.50,486) scale(0.9400,1)" font-size="10" fill="#000" stroke="#000" stroke-width="0.3">100</text>
<text transform="translate(1171.50,501) scale(0.9400,1)" font-size="10" fill="#000" stroke="#000" stroke-width="0.3">70</text>
<text transform="translate(1171.50,529) scale(0.9400,1)" font-size="10" fill="#000" stroke="#000" stroke-width="0.3">30</text>
<text transform="translate(1172.50,544) scale(0.9400,1)" font-size="10" fill="#000" stroke="#000" stroke-width="0.3">0</text>
<rect x="6" y="548" width="1" height="3" fill="#000"/>
<text transform="translate(5.10,560) scale(0.9048,1)" font-size="10" fill="#000" stroke="#000" stroke-width="0.3" word-spacing="0.6">22 Oct 2021</text>
<rect x="70" y="548" width="1" height="3" fill="#000"/>
<text transform="translate(69.10,560) scale(0.9169,1)" font-size="10" fill="#000" stroke="#000" stroke-width="0.3" word-spacing="0.6">1 Nov 2021</text>
<rect x="134" y="548" width="1" height="3" fill="#000"/>
<text transform="translate(133.10,560) scale(0.8998,1)" font-size="10" fill="#000" stroke="#000" stroke-width="0.3" word-spacing="0.6">10 Nov 2021</text>
<rect x="198" y="548" width="1" height="3" fill="#000"/>
<text transform="translate(197.10,560) scale(0.8998,1)" font-size="10" fill="#000" stroke="#000" stroke-width="0.3" word-spacing="0.6">19 Nov 2021</text>
<rect x="262" y="548" width="1" height="3" fill="#000"/>
<text transform="translate(261.10,560) scale(0.9154,1)" font-size="10" fill="#000" stroke="#000" stroke-width="0.3" word-spacing="0.6">29 Nov 2021</text>
<rect x="326" y="548" width="1" height="3" fill="#000"/>
<text transform="translate(325.10,560) scale(0.8921,1)" font-size="10" fill="#000" stroke="#000" stroke-width="0.3" word-spacing="0.6">8 Dec 2021</text>
<rect x="390" y="548" width="1" height="3" fill="#000"/>
<text transform="translate(389.10,560) scale(0.8877,1)" font-size="10" fill="#000" stroke="#000" stroke-width="0.3" word-spacing="0.6">17 Dec 2021</text>
<rect x="454" y="548" width="1" height="3" fill="#000"/>
<text transform="translate(453.10,560) scale(0.8877,1)" font-size="10" fill="#000" stroke="#000" stroke-width="0.3" word-spacing="0.6">27 Dec 2021</text>
<rect x="518" y="548" width="1" height="3" fill="#000"/>
<text transform="translate(517.10,560) scale(0.8718,1)" font-size="10" fill="#000" stroke="#000" stroke-width="0.3" word-spacing="0.6">5 Jan 2022</text>
<rect x="582" y="548" width="1" height="3" fill="#000"/>
<text transform="translate(581.10,560) scale(0.8836,1)" font-size="10" fill="#000" stroke="#000" stroke-width="0.3" word-spacing="0.6">14 Jan 2022</text>
<rect x="646" y="548" width="1" height="3" fill="#000"/>
<text transform="translate(645.10,560) scale(0.8836,1)" font-size="10" fill="#000" stroke="#000" stroke-width="0.3" word-spacing="0.6">24 Jan 2022</text>
<rect x="710" y="548" width="1" height="3" fill="#000"/>
<text transform="translate(709.10,560) scale(0.8958,1)" font-size="10" fill="#000" stroke="#000" stroke-width="0.3" word-spacing="0.6">2 Feb 2022</text>
<rect x="774" y="548" width="1" height="3" fill="#000"/>
<text transform="translate(773.10,560) scale(0.9011,1)" font-size="10" fill="#000" stroke="#000" stroke-width="0.3" word-spacing="0.6">11 Feb 2022</text>
<rect x="838" y="548" width="1" height="3" fill="#000"/>
<text transform="translate(837.10,560) scale(0.9015,1)" font-size="10" fill="#000" stroke="#000" stroke-width="0.3" word-spacing="0.6">21 Feb 2022</text>
<rect x="902" y="548" width="1" height="3" fill="#000"/>
<text transform="translate(901.10,560) scale(0.8900,1)" font-size="10" fill="#000" stroke="#000" stroke-width="0.3" word-spacing="0.6">2 Mar 2022</text>
</svg>
</body></html>
